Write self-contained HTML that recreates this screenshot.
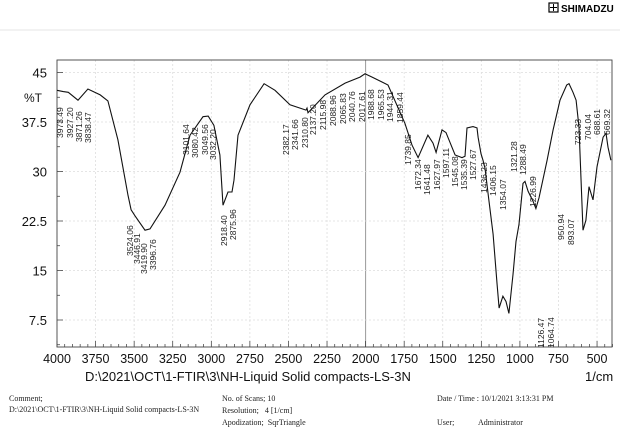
<!DOCTYPE html>
<html><head><meta charset="utf-8"><style>
body{margin:0;background:#fff;width:636px;height:433px;overflow:hidden;font-family:"Liberation Sans",sans-serif}
svg{display:block}
.ft{font-family:"Liberation Serif",serif;font-size:8px;fill:#222}
</style></head><body>
<svg id="chart" width="636" height="433">
<g>
<rect x="549" y="3" width="9" height="9" fill="none" stroke="#000" stroke-width="1.2"/>
<line x1="553.5" y1="4" x2="553.5" y2="11" stroke="#000"/><line x1="550" y1="7.5" x2="557" y2="7.5" stroke="#000"/>
<text x="561" y="12" font-size="10" font-weight="bold" fill="#000">SHIMADZU</text>
</g>
<line x1="0" y1="30" x2="620" y2="30" stroke="#ddd" stroke-width="0.8"/>
<g id="grid"></g>
<g id="axes"></g>
<g id="labels"></g>
<path id="line" fill="none" stroke="#111" stroke-width="1.1"/>
<text x="85" y="381" font-size="13" fill="#111">D:\2021\OCT\1-FTIR\3\NH-Liquid Solid compacts-LS-3N</text>
<text x="585" y="381" font-size="13" fill="#111">1/cm</text>
<text x="24" y="102" font-size="12" fill="#111">%T</text>
<g>
<text class="ft" x="9" y="401">Comment;</text>
<text class="ft" x="9" y="412">D:\2021\OCT\1-FTIR\3\NH-Liquid Solid compacts-LS-3N</text>
<text class="ft" x="222" y="401">No. of Scans; 10</text>
<text class="ft" x="222" y="413">Resolution;&#160;&#160;&#160;4 [1/cm]</text>
<text class="ft" x="222" y="425">Apodization;&#160;&#160;SqrTriangle</text>
<text class="ft" x="437" y="401">Date / Time : 10/1/2021 3:13:31 PM</text>
<text class="ft" x="437" y="425">User;</text>
<text class="ft" x="478" y="425">Administrator</text>
</g>
</svg>
<script>
const wavenumbers=[4000,3960,3927,3864,3800,3720,3670,3605,3540,3520,3495,3430,3397,3300,3203,3138,3054,3020,2983,2944,2924,2892,2866,2853,2827,2749,2658,2587,2490,2386,2380,2373,2263,2133,2036,2004,1958,1855,1745,1699,1660,1596,1563,1543,1505,1479,1420,1375,1356,1343,1304,1278,1271,1252,1239,1226,1200,1174,1148,1135,1110,1090,1071,1045,1025,1006,980,967,947,915,896,876,824,785,740,697,682,656,636,617,591,572,552,526,500,461,442,429,410];
const transmittance=[42.3,42.1,42.0,40.8,42.5,41.6,40.7,34.8,26.4,24.2,23.3,21.1,21.3,24.9,29.9,35.5,38.3,38.4,37.0,32.5,24.9,26.9,26.9,28.7,35.5,40.1,43.3,42.3,40.1,39.3,39.6,38.9,41.6,43.4,44.3,44.8,44.3,43.1,37.3,34.0,32.1,35.5,34.3,32.9,36.3,35.9,32.5,32.1,32.3,36.6,36.8,36.6,35.2,32.7,31.7,30.5,25.5,20.5,12.9,9.3,11.1,10.3,8.5,14.4,19.4,22.0,28.2,28.5,27.0,25.5,24.4,26.0,31.7,36.3,40.8,43.1,43.3,42.0,40.8,36.7,21.1,22.6,27.7,25.7,30.7,35.2,35.8,33.7,31.7];
const xTicks=[4000,3750,3500,3250,3000,2750,2500,2250,2000,1750,1500,1250,1000,750,500];
const yTicks=[7.5,15,22.5,30,37.5,45];
const peakLabels=["3973.49","3927.20","3871.26","3838.47","3524.06","3446.91","3419.90","3396.76","3101.64","3080.42","3049.56","3032.20","2918.40","2875.96","2382.17","2341.66","2310.80","2137.20","2115.98","2088.96","2065.83","2040.76","2017.61","1988.68","1965.53","1944.31","1859.44","1739.85","1672.34","1641.48","1627.97","1597.11","1545.08","1535.39","1527.67","1436.23","1406.15","1354.07","1321.28","1288.49","1226.99","1126.47","1064.74","950.94","893.07","723.33","704.04","688.61","669.32"];
const labelPos=[[60,138],[70,138],[79,142],[88,143],[130,256],[137,264],[144,274],[153,270],[186,155],[195,158],[205,155],[213,160],[224,246],[233,240],[286,155],[295,150],[305,148],[313,135],[323,130],[333,126],[343,124],[352,122],[362,122],[371,120],[381,120],[390,122],[400,123],[408,165],[418,190],[427,195],[437,190],[446,178],[455,187],[464,190],[473,180],[484,193],[493,196],[503,210],[514,172],[523,175],[533,207],[541,348],[551,348],[561,240],[571,245],[578,145],[588,140],[597,135],[607,135]];
const L=57,R=612,T=60,B=347;
const X=w=>57+(4000-w)*0.1543;
const Y=v=>72.5+(45-v)*6.6;
const ns="http://www.w3.org/2000/svg";
function mk(tag,attrs,parent){const e=document.createElementNS(ns,tag);for(const k in attrs)e.setAttribute(k,attrs[k]);parent.appendChild(e);return e;}
const grid=document.getElementById('grid'),axes=document.getElementById('axes'),labs=document.getElementById('labels');
xTicks.forEach(t=>{const x=X(t);
 const g=mk('line',{x1:x,y1:T,x2:x,y2:B,stroke:t===2000?'#999':'#ddd','stroke-width':t===2000?1:0.8,'stroke-dasharray':t===2000?'':'2,2'},grid);
 
 
 const tx=mk('text',{x:x,y:363,'text-anchor':'middle','font-size':12.5,fill:'#111'},axes);
 tx.textContent=t;
 
 
});
for(let w=4000;w>=400;w-=50){const x=X(w);const m=mk('line',{x1:x,y1:B,x2:x,y2:B-(w%250===0?6:3),stroke:'#333','stroke-width':0.7},axes);
 
 }
yTicks.forEach(t=>{const y=Y(t);
 const g=mk('line',{x1:L,y1:y,x2:R,y2:y,stroke:'#ddd','stroke-width':0.8,'stroke-dasharray':'2,2'},grid);
 
 
 const tx=mk('text',{x:L-10,y:y+5,'text-anchor':'end','font-size':13,fill:'#111'},axes);
 tx.textContent=t;
 
 
});
for(let v=3.75;v<=46;v+=3.75){const y=Y(v);const m=mk('line',{x1:L,y1:y,x2:L+(Math.abs(v/7.5-Math.round(v/7.5))<0.01?6:3),y2:y,stroke:'#333','stroke-width':0.7},axes);
 
 }
const frame=mk('rect',{x:L,y:T,width:R-L,height:B-T,fill:'none',stroke:'#444','stroke-width':0.9},axes);


peakLabels.forEach((s,i)=>{const [x,y]=labelPos[i];
 const t=mk('text',{x:x+3,y:y,'font-size':8.5,fill:'#222',transform:`rotate(-90 ${x+3} ${y})`},labs);
 t.textContent=s;
 
 
});
let d='';wavenumbers.forEach((w,i)=>{d+=(i?'L':'M')+X(w).toFixed(1)+','+Y(transmittance[i]).toFixed(1);});
document.getElementById('line').setAttribute('d',d);
</script>
</body></html>
